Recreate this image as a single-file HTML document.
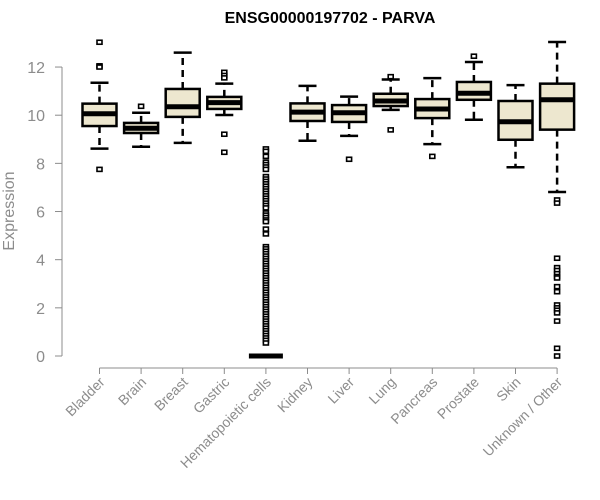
<!DOCTYPE html>
<html><head><meta charset="utf-8"><style>
body{margin:0;background:#fff;}
svg{display:block;font-family:"Liberation Sans",sans-serif;}
</style></head><body>
<svg id="chart" width="600" height="500">
<text x="330" y="23" text-anchor="middle" font-weight="bold" font-size="16" fill="#000">ENSG00000197702 - PARVA</text>
<text transform="translate(14,211) rotate(-90)" text-anchor="middle" font-size="16" fill="#8c8c8c">Expression</text>
<g id="axes"></g><g id="boxes"></g>
</svg>
<script>
const categories=["Bladder","Brain","Breast","Gastric","Hematopoietic cells","Kidney","Liver","Lung","Pancreas","Prostate","Skin","Unknown / Other"];
const lowWhisker=[8.61,8.69,8.85,10.01,0,8.94,9.14,10.22,8.8,9.81,7.84,6.81];
const q1=[9.55,9.26,9.93,10.26,0,9.76,9.72,10.38,9.88,10.64,8.98,9.4];
const medians=[10.06,9.46,10.35,10.52,0,10.13,10.1,10.59,10.26,10.91,9.73,10.64];
const q3=[10.48,9.68,11.09,10.76,0,10.49,10.42,10.89,10.67,11.38,10.59,11.31];
const highWhisker=[11.35,10.1,12.6,11.31,0,11.22,10.77,11.48,11.54,12.21,11.25,13.04];
const outliers=[
[13.03,12.05,12.0,7.75],
[10.37],
[],
[11.78,11.65,11.55,9.21,8.46],
[8.6,8.5,8.29,8.05,7.95,7.85,7.75,7.45,7.35,7.25,7.15,7.05,6.95,6.85,6.75,6.65,6.55,6.45,6.35,6.25,6.15,5.94,5.85,5.75,5.65,5.58,5.27,5.07,4.54,4.45,4.35,4.25,4.15,4.05,3.95,3.85,3.75,3.65,3.55,3.45,3.35,3.25,3.15,3.05,2.95,2.85,2.75,2.65,2.55,2.45,2.35,2.25,2.15,2.05,1.95,1.85,1.75,1.65,1.55,1.45,1.35,1.25,1.15,1.05,0.95,0.85,0.75,0.65,0.54],
[],
[8.17],
[11.6,9.39],
[8.29],
[12.45],
[],
[6.48,6.35,4.06,3.67,3.55,3.42,3.3,3.24,2.88,2.67,2.12,2.0,1.9,1.79,1.45,0.32,0.0]
];
const yTicks=[0,2,4,6,8,10,12];
const NS="http://www.w3.org/2000/svg";
const y=v=>356-v*24.08;
const x=i=>99.5+i*41.6;
function mk(tag,attrs,parent){const e=document.createElementNS(NS,tag);for(const k in attrs)e.setAttribute(k,attrs[k]);parent.appendChild(e);return e;}
const ax=document.getElementById('axes'),bx=document.getElementById('boxes');
const yl=mk('line',{x1:62,x2:62,y1:y(0),y2:y(12),stroke:'#8c8c8c'},ax);


yTicks.forEach(t=>{
 const tk=mk('line',{x1:55,x2:62,y1:y(t),y2:y(t),stroke:'#8c8c8c'},ax);
 
 
 const tx=mk('text',{x:45,y:y(t)+6,'text-anchor':'end','font-size':16,fill:'#8c8c8c'},ax);
 tx.textContent=t;
 
 
});
const xl=mk('line',{x1:x(0),x2:x(categories.length-1),y1:368,y2:368,stroke:'#8c8c8c'},ax);


categories.forEach((c,i)=>{
 const cx=x(i);
 const tk=mk('line',{x1:cx,x2:cx,y1:368,y2:374,stroke:'#8c8c8c'},ax);
 
 
 const tx=mk('text',{transform:`translate(${cx+6},${383}) rotate(-45)`,'text-anchor':'end','font-size':14,fill:'#8c8c8c'},ax);
 tx.textContent=c;
 
 
 const g=mk('g',{},bx);
 
 
 const hw=17;
 mk('line',{x1:cx,x2:cx,y1:y(q3[i]),y2:y(highWhisker[i]),stroke:'#000','stroke-width':2.5,'stroke-dasharray':'7,5'},g);
 mk('line',{x1:cx,x2:cx,y1:y(q1[i]),y2:y(lowWhisker[i]),stroke:'#000','stroke-width':2.5,'stroke-dasharray':'7,5'},g);
 mk('line',{x1:cx-9,x2:cx+9,y1:y(highWhisker[i]),y2:y(highWhisker[i]),stroke:'#000','stroke-width':2.5},g);
 mk('line',{x1:cx-9,x2:cx+9,y1:y(lowWhisker[i]),y2:y(lowWhisker[i]),stroke:'#000','stroke-width':2.5},g);
 mk('rect',{x:cx-hw,y:y(q3[i]),width:hw*2,height:Math.max(0,y(q1[i])-y(q3[i])),fill:'#ede7cf',stroke:'#000','stroke-width':2.5},g);
 mk('line',{x1:cx-hw,x2:cx+hw,y1:y(medians[i]),y2:y(medians[i]),stroke:'#000','stroke-width':5},g);
 outliers[i].forEach(v=>{
  const p=mk('rect',{x:cx-2.5,y:y(v)-2,width:5,height:4,fill:'#fff',stroke:'#000','stroke-width':1.6},g);
  
  
 });
});
</script>
</body></html>
